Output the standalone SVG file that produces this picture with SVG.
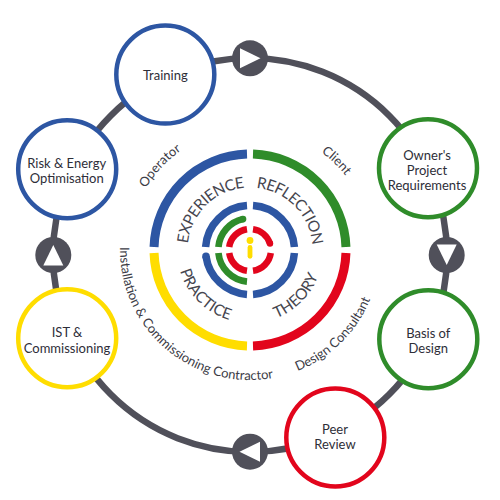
<svg xmlns="http://www.w3.org/2000/svg" width="500" height="500" viewBox="0 0 500 500">
<style>
.ring{fill:none;stroke:#50505a;stroke-width:6.5}
.arrowbg{fill:#50505a}
.tri{fill:#fff}
.node{fill:#fff;stroke-width:4.5}
.lbl{font-family:Lato,'Open Sans',sans-serif;font-size:13px;fill:#2e2e38;text-anchor:middle}
.big{font-family:Lato,'Open Sans',sans-serif;font-size:15.5px;fill:#46464f;text-anchor:middle}
.tight{letter-spacing:-0.6px}
.role{font-family:Lato,'Open Sans',sans-serif;font-size:13px;fill:#3c3c46;text-anchor:middle}
.arc{fill:none}
.b{stroke:#2d56a3}.g{stroke:#2f8c2a}.r{stroke:#e2051c}.y{stroke:#ffdd00}
.w9{stroke-width:9}.w75{stroke-width:7.5}.w67{stroke-width:6.7}.w65{stroke-width:6.5}
</style>
<defs>
<path id="pTopIn" d="M191.27,271.38 A62.5,62.5 0 1 1 308.73,271.38"/>
<path id="pBotIn" d="M181.40,225.03 A73,73 0 1 0 318.60,225.03"/>
<path id="pTopOut" d="M136.30,291.38 A121,121 0 1 1 363.70,291.38"/>
<path id="pBotOut" d="M127.84,205.54 A130,130 0 1 0 372.16,205.54"/>
</defs>

<g id="connectors">
<circle class="ring" cx="250" cy="255" r="197"/>
<g id="arrow-top"><circle class="arrowbg" cx="250" cy="58.3" r="18"/><polygon class="tri" points="240,48.3 240,68.3 260.5,58.3"/></g>
<g id="arrow-right"><circle class="arrowbg" cx="446.7" cy="255" r="18"/><polygon class="tri" points="436.7,244.5 456.7,244.5 446.7,265"/></g>
<g id="arrow-bottom"><circle class="arrowbg" cx="250" cy="451.7" r="18"/><polygon class="tri" points="260,441.7 260,461.7 239.5,451.7"/></g>
<g id="arrow-left"><circle class="arrowbg" cx="53.3" cy="255" r="18"/><polygon class="tri" points="43.3,265.5 63.3,265.5 53.3,245"/></g>
</g>

<g id="center-target">
<path class="arc b w9" d="M154.05,247 A96,96 0 0 1 247,154.05"/>
<path class="arc g w9" d="M253,154.05 A96,96 0 0 1 345.95,247"/>
<path class="arc r w9" d="M345.95,253 A96,96 0 0 1 253,345.95"/>
<path class="arc y w9" d="M247,345.95 A96,96 0 0 1 154.05,253"/>

<path class="arc b w75" d="M205.6,247 A44.5,44.5 0 0 1 247,205.6"/>
<path class="arc b w75" d="M253,205.6 A44.5,44.5 0 0 1 294.4,247"/>
<path class="arc b w75" d="M294.4,253 A44.5,44.5 0 0 1 253,294.4"/>
<path class="arc b w75" d="M247,294.4 A44.5,44.5 0 0 1 205.98,256.2"/>
<circle cx="205.98" cy="256.2" r="3.75" fill="#2d56a3"/>

<path class="arc g w67" d="M218.44,247 A31.7,31.7 0 0 1 243,219.08"/>
<circle cx="243" cy="219.08" r="3.35" fill="#2f8c2a"/>
<path class="arc g w67" d="M247,281.56 A31.7,31.7 0 0 1 218.44,253"/>

<path class="arc r w65" d="M229.22,247 A21,21 0 0 1 247,229.22"/>
<path class="arc r w65" d="M253,229.22 A21,21 0 0 1 269.97,243.5"/>
<circle cx="269.97" cy="243.5" r="3.25" fill="#e2051c"/>
<path class="arc r w65" d="M270.78,253 A21,21 0 0 1 253,270.78"/>
<path class="arc r w65" d="M247,270.78 A21,21 0 0 1 229.22,253"/>

<circle cx="250" cy="240.5" r="3.4" fill="#ffdd00"/>
<line x1="250" y1="247.5" x2="250" y2="256.3" stroke="#ffdd00" stroke-width="4.8" stroke-linecap="round"/>

<text class="big tight"><textPath href="#pTopIn" startOffset="70.9">EXPERIENCE</textPath></text>
<text class="big tight"><textPath href="#pTopIn" startOffset="169.1">REFLECTION</textPath></text>
<text class="big"><textPath href="#pBotIn" startOffset="82.8">PRACTICE</textPath></text>
<text class="big"><textPath href="#pBotIn" startOffset="197.5">THEORY</textPath></text>

<text class="role"><textPath href="#pTopOut" startOffset="133">Operator</textPath></text>
<text class="role"><textPath href="#pTopOut" startOffset="325.2">Client</textPath></text>
<text class="role"><textPath href="#pBotOut" startOffset="157.7">Installation &amp; Commissioning Contractor</textPath></text>
<text class="role"><textPath href="#pBotOut" startOffset="350.5">Design Consultant</textPath></text>
</g>

<g id="node-training">
<circle class="node b" cx="165.3" cy="74.6" r="49"/>
<text class="lbl" x="165.3" y="79.5">Training</text>
</g>
<g id="node-owners">
<circle class="node g" cx="428" cy="168.3" r="49"/>
<text class="lbl" x="427" y="159.5">Owner's</text>
<text class="lbl" x="427" y="174.5">Project</text>
<text class="lbl" x="427" y="189.5">Requirements</text>
</g>
<g id="node-basis">
<circle class="node g" cx="428.3" cy="339.2" r="49"/>
<text class="lbl" x="428.3" y="338">Basis of</text>
<text class="lbl" x="428.3" y="353">Design</text>
</g>
<g id="node-peer">
<circle class="node r" cx="335.3" cy="437.5" r="49"/>
<text class="lbl" x="335" y="434">Peer</text>
<text class="lbl" x="335" y="448.7">Review</text>
</g>
<g id="node-ist">
<circle class="node y" cx="67.2" cy="338.3" r="49"/>
<text class="lbl" x="67" y="337">IST &amp;</text>
<text class="lbl" x="67" y="353">Commissioning</text>
</g>
<g id="node-risk">
<circle class="node b" cx="67.2" cy="169.2" r="49"/>
<text class="lbl" x="66.7" y="168">Risk &amp; Energy</text>
<text class="lbl" x="66.7" y="183">Optimisation</text>
</g>
</svg>
